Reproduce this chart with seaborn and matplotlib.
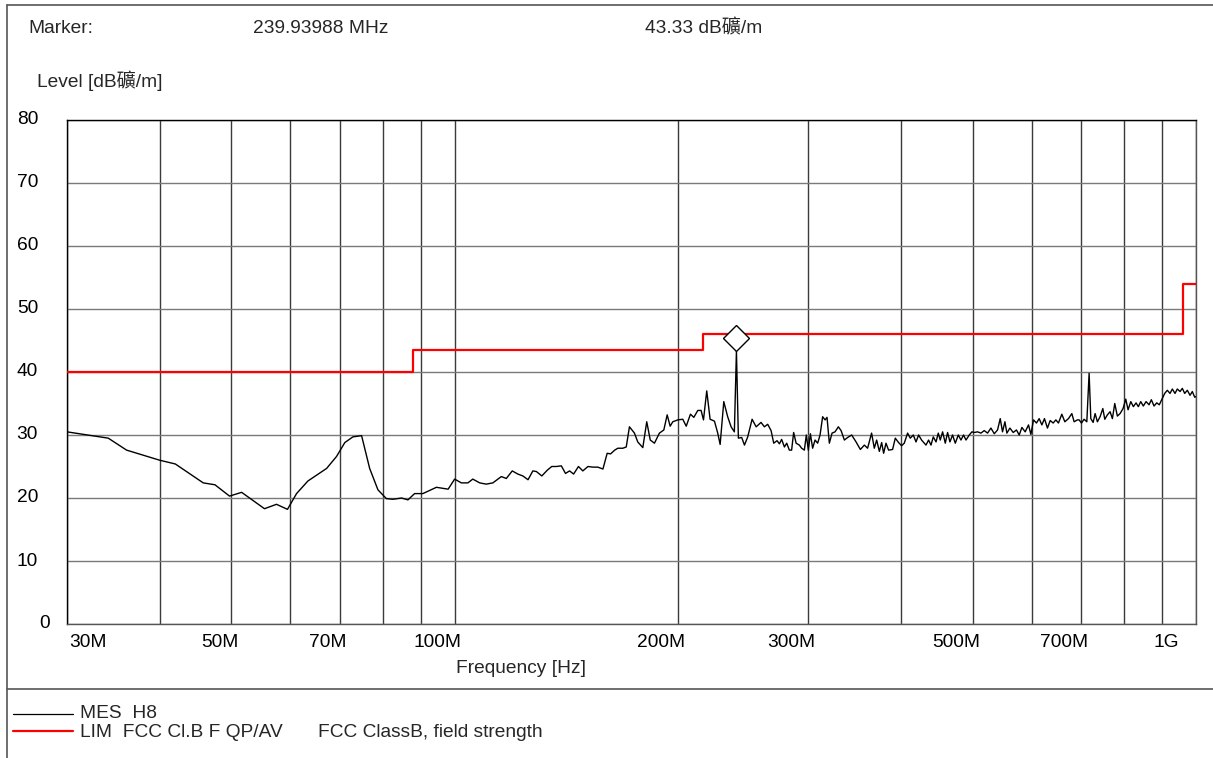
import matplotlib
matplotlib.use("Agg")
import matplotlib.pyplot as plt
import matplotlib.transforms as mtransforms
from matplotlib.lines import Line2D
import pandas as pd
import seaborn as sns

# ---------------- data ----------------
mes_freq_mhz = [
    30.0, 34.1, 36.1, 40.0, 42.0, 45.8, 47.5, 49.7, 51.6, 55.4, 57.5, 59.5, 61.2, 63.4, 67.2,
    69.3, 71.1, 72.9, 74.9, 76.8, 78.8, 80.9, 82.6, 84.8, 86.5, 88.3, 90.6, 94.5, 98.0,
    100.0, 102.1, 104.2, 105.8, 108.1, 110.3, 112.6, 115.6, 117.4, 119.6, 121.7, 123.6, 125.6,
    127.5, 128.9, 131.1, 133.3, 135.2, 137.1, 139.3, 141.1, 142.9, 144.7, 146.9, 148.9, 151.3,
    153.6, 156.0, 158.5, 160.6, 162.3, 164.4,
    166.0, 168.6, 170.4, 172.1, 174.8, 176.6, 179.4, 181.6, 183.6, 186.0,
    188.9, 191.5, 193.5, 195.3, 196.9, 200.0, 203.1, 205.3, 208.0, 210.2,
    212.8, 215.0, 216.6, 218.8, 221.1, 224.1, 226.4, 228.1, 230.7, 233.5,
    236.0, 238.4, 239.94, 241.4, 243.9, 246.0, 248.5, 251.9, 255.1, 259.0,
    261.7, 264.4,
    267.2, 269.4, 272.2, 274.2, 276.1, 278.5, 280.5, 282.8, 284.8, 286.6,
    288.8, 291.7, 293.8, 296.3, 298.1, 300.0, 301.9, 304.0, 306.3, 308.8,
    311.1, 313.6, 316.0, 317.9, 320.2, 322.9, 325.9, 329.3, 332.1, 335.5,
    338.9, 343.2, 347.9, 352.6, 357.0, 360.6, 365.1, 368.2, 370.9, 374.0,
    376.7, 379.0, 381.8, 384.9, 389.7, 393.0, 397.0, 400.8, 404.1, 408.3,
    411.7, 415.6, 419.1, 422.5, 426.4,
    432.3, 435.8, 439.1, 442.2, 446.0, 449.1, 451.9, 455.2, 459.0, 462.3,
    465.7, 469.5, 473.5, 477.9, 481.9, 485.8, 489.5, 494.5, 498.6, 502.2,
    507.4, 512.8, 518.0, 523.4, 528.9, 534.4, 539.9, 544.4, 548.3, 552.4,
    555.8, 561.0, 566.8, 572.6, 577.5, 582.3, 588.3, 594.4, 598.8, 603.7,
    609.3, 614.4, 619.6, 624.6, 630.4, 635.8, 641.7, 647.1, 652.3, 659.2,
    665.4, 672.9, 680.0, 684.9, 691.9,
    695.6, 700.6, 706.4, 712.4, 717.5, 721.3, 726.5, 731.0, 736.2, 742.4,
    748.7, 753.3, 759.4, 765.8, 771.3, 777.0, 783.3, 789.9, 797.3, 804.0,
    809.8, 816.6, 823.2, 830.1, 836.0, 842.3, 849.1, 856.3, 864.3, 870.5,
    877.8, 885.2, 892.3, 900.7, 907.4, 914.8, 922.5, 929.1, 936.9, 943.6,
    951.6, 958.4, 965.5, 973.4, 981.6, 988.6, 996.0, 1000.0,
]
mes_level = [
    30.5, 29.5, 27.6, 26.0, 25.4, 22.4, 22.1, 20.3, 20.9, 18.3, 19.0, 18.2, 20.7, 22.7, 24.7,
    26.6, 28.8, 29.7, 29.9, 24.7, 21.3, 19.9, 19.8, 20.0, 19.7, 20.7, 20.7, 21.7, 21.4,
    23.0, 22.4, 22.4, 23.0, 22.4, 22.2, 22.4, 23.4, 23.1, 24.3, 23.8, 23.5, 22.9,
    24.3, 24.2, 23.5, 24.4, 25.0, 25.0, 25.1, 23.9, 24.3, 23.8, 25.0, 24.3, 25.0,
    24.9, 24.9, 24.6, 27.1, 27.0, 27.6,
    27.9, 27.9, 28.1, 31.3, 30.3, 28.9, 28.0, 32.1, 29.2, 28.7,
    30.3, 30.8, 33.2, 31.4, 32.1, 32.4, 32.5, 31.4, 33.3, 32.8,
    33.9, 33.9, 32.4, 37.0, 32.5, 32.2, 30.3, 28.5, 35.3, 32.9,
    31.3, 30.5, 43.33, 29.5, 29.6, 28.4, 29.7, 32.5, 31.3, 32.0,
    31.3, 31.7,
    30.7, 28.7, 29.1, 28.6, 29.3, 28.1, 28.7, 27.6, 27.6, 30.4,
    28.7, 28.4, 27.9, 27.6, 30.0, 27.6, 30.2, 27.9, 29.2, 28.7,
    30.0, 32.9, 32.4, 32.8, 28.7, 30.3, 30.5, 31.3, 30.7, 29.2,
    29.6, 30.0, 28.9, 27.7, 28.4, 27.9, 30.3, 27.9, 29.2, 27.4,
    28.8, 27.1, 28.7, 27.6, 27.7, 29.5, 28.8, 28.3, 28.7, 30.3,
    29.5, 30.0, 28.9, 30.0, 29.2,
    28.4, 29.2, 28.4, 29.7, 28.9, 30.3, 29.2, 30.5, 28.7, 30.4,
    28.9, 30.0, 28.7, 30.0, 29.2, 30.0, 29.2, 30.0, 30.5, 30.4,
    30.5, 30.3, 30.7, 30.3, 31.1, 30.2, 30.8, 32.6, 30.5, 32.1,
    30.3, 31.1, 30.4, 30.8, 30.0, 31.2, 30.5, 31.6, 30.1, 32.4,
    31.9, 32.6, 31.6, 32.6, 31.1, 32.3, 31.9, 32.4, 31.9, 33.3,
    32.1, 32.6, 33.4, 32.1, 32.4,
    32.4, 31.9, 32.5, 32.1, 39.8, 32.6, 32.0, 33.4, 32.1, 32.9,
    34.2, 32.5, 33.2, 33.7, 32.6, 35.0, 33.0, 33.4, 34.2, 35.7,
    34.0, 35.3, 34.5, 35.1, 34.5, 35.3, 34.6, 35.3, 34.8, 35.6,
    34.6, 35.1, 34.8, 35.8, 36.6, 37.1, 36.6, 37.3, 36.6, 37.3,
    36.9, 37.4, 36.6, 37.1, 36.3, 36.9, 36.0, 36.1,
]

lim_freq_mhz = [30, 88, 216, 960, 1000]
lim_level = [40, 43.5, 46, 54, 54]

marker_freq_mhz = 239.93988
marker_level = 43.33

x_major_ticks = [30, 50, 70, 100, 200, 300, 500, 700, 1000]
x_major_labels = ["30M", "50M", "70M", "100M", "200M", "300M", "500M", "700M", "1G"]
x_minor_ticks = [40, 60, 80, 90, 400, 600, 800, 900]
y_ticks = [0, 10, 20, 30, 40, 50, 60, 70, 80]

unit = "dB礦/m"

# ---------------- style ----------------
sns.set_theme(style="white")
plt.rcParams["font.family"] = ["Liberation Sans", "Noto Sans CJK TC", "DejaVu Sans"]
FS = 13.8

W, H = 1213, 758
fig = plt.figure(figsize=(W / 100, H / 100), dpi=100)
fig.patch.set_facecolor("white")

def px(x, y):
    return x / W, 1 - y / H

ax = fig.add_axes([67 / W, 1 - 624 / H, (1196 - 67) / W, (624 - 120) / H])

mes_df = pd.DataFrame({"freq": mes_freq_mhz, "level": mes_level})
lim_df = pd.DataFrame({"freq": lim_freq_mhz, "level": lim_level})

sns.lineplot(data=mes_df, x="freq", y="level", ax=ax, color="black", lw=1.0,
             estimator=None, sort=False, zorder=3)
sns.lineplot(data=lim_df, x="freq", y="level", ax=ax, color="#ff0000", lw=1.6,
             estimator=None, sort=False, drawstyle="steps-post", zorder=4)

up = mtransforms.ScaledTranslation(0, 13.5 / 100, fig.dpi_scale_trans)
ax.plot([marker_freq_mhz], [marker_level], marker="D", ms=13.2, mfc="white",
        mec="black", mew=1.0, ls="none", transform=ax.transData + up, zorder=6,
        clip_on=False)

ax.set_xscale("log")
ax.set_xlim(30, 1000)
ax.set_ylim(0, 80)
ax.set_xticks(x_major_ticks)
ax.set_xticks(x_minor_ticks, minor=True)
ax.set_yticks(y_ticks)
ax.tick_params(which="both", length=0, labelbottom=False, labelleft=False)
ax.grid(True, which="both", axis="x", color="#3a3a3a", lw=1.0)
ax.grid(True, which="major", axis="y", color="#7a7a7a", lw=1.0)
ax.set_xlabel("")
ax.set_ylabel("")
for s in ax.spines.values():
    s.set_color("#555555")
    s.set_linewidth(1.0)
ax.spines["top"].set_color("black")
ax.spines["left"].set_color("black")

# x tick labels
bx = mtransforms.blended_transform_factory(ax.transData, ax.transAxes)
for f, lab in zip(x_major_ticks, x_major_labels):
    if lab == "30M":
        ha, dx = "left", 2
    elif lab == "1G":
        ha, dx = "right", -17
    else:
        ha, dx = "right", 7
    off = mtransforms.ScaledTranslation(dx / 100, -23 / 100, fig.dpi_scale_trans)
    ax.text(f, 0, lab, transform=bx + off, ha=ha, va="baseline", fontsize=FS, color="black")

# y tick labels
by = mtransforms.blended_transform_factory(ax.transAxes, ax.transData)
for v in y_ticks:
    dx = -17 if v == 0 else -29
    off = mtransforms.ScaledTranslation(dx / 100, 0, fig.dpi_scale_trans)
    ax.text(0, v, str(v), transform=by + off, ha="right", va="center", fontsize=FS, color="black")

# header texts
fig.text(*px(28, 33), "Marker:", fontsize=FS, va="baseline", ha="left")
fig.text(*px(253, 33), f"{marker_freq_mhz:.5f} MHz", fontsize=FS, va="baseline", ha="left")
fig.text(*px(645, 33), f"{marker_level:.2f} {unit}", fontsize=FS, va="baseline", ha="left")
fig.text(*px(37, 87), f"Level [{unit}]", fontsize=FS, va="baseline", ha="left")
fig.text(*px(456, 673), "Frequency [Hz]", fontsize=FS, va="baseline", ha="left")

# frame lines
fig.add_artist(Line2D([7 / W, 7 / W], [0, 1 - 5 / H], transform=fig.transFigure, color="#555555", lw=1.2))
fig.add_artist(Line2D([7 / W, 1], [1 - 5 / H, 1 - 5 / H], transform=fig.transFigure, color="#555555", lw=1.2))
fig.add_artist(Line2D([7 / W, 1], [1 - 689 / H, 1 - 689 / H], transform=fig.transFigure, color="#555555", lw=1.2))

# legend
fig.add_artist(Line2D([13 / W, 73 / W], [1 - 714 / H, 1 - 714 / H], transform=fig.transFigure, color="black", lw=0.9))
fig.add_artist(Line2D([13 / W, 73 / W], [1 - 731 / H, 1 - 731 / H], transform=fig.transFigure, color="#ff0000", lw=1.6))
fig.text(*px(80, 718), "MES  H8", fontsize=FS, va="baseline", ha="left")
fig.text(*px(80, 737), "LIM  FCC Cl.B F QP/AV", fontsize=FS, va="baseline", ha="left")
fig.text(*px(318, 737), "FCC ClassB, field strength", fontsize=FS, va="baseline", ha="left")

fig.savefig("out.png", dpi=100)
